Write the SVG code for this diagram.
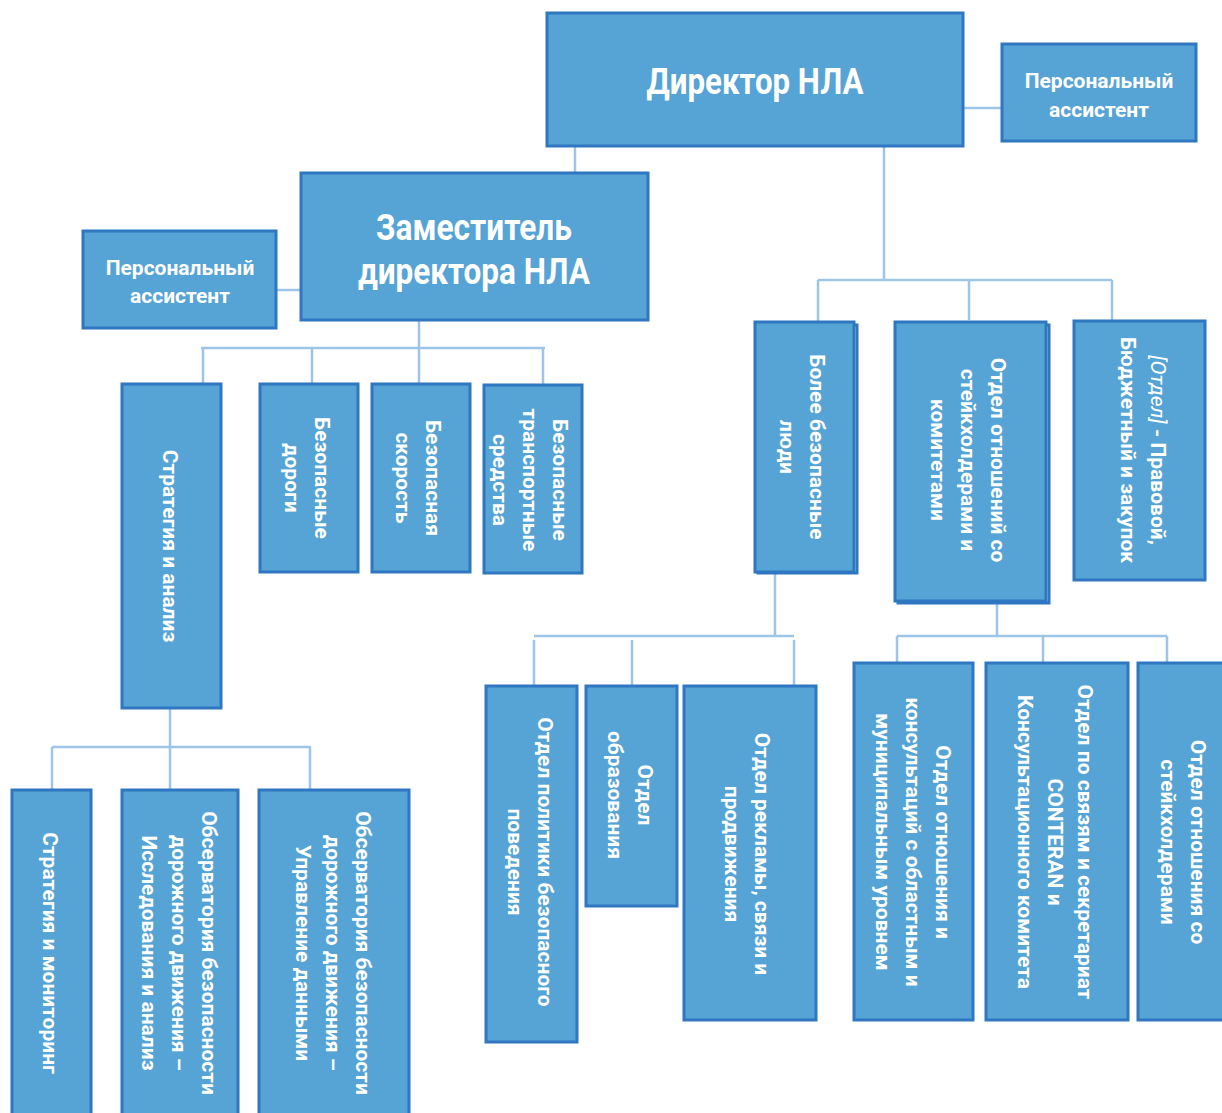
<svg xmlns="http://www.w3.org/2000/svg" width="1222" height="1113" viewBox="0 0 1222 1113">
<style>
.box{fill:#56A3D5;stroke:#2F77C0;stroke-width:3}
.sh{fill:none;stroke:#2F77C0;stroke-width:3}
.ln{fill:none;stroke:#9CC5E8;stroke-width:2.5}
text{fill:#fff;font-family:"Roboto","Liberation Sans",sans-serif;font-weight:bold;text-anchor:middle}
.big{font-size:36px}
.pa{font-size:21px}
.v{font-size:21px}
.it{font-style:italic;font-weight:normal}
</style>
<rect width="1222" height="1113" fill="#fff"/>
<g id="connectors">
<path class="ln" d="M963 108H1002"/>
<path class="ln" d="M575 146V173"/>
<path class="ln" d="M276 290H301"/>
<path class="ln" d="M419 320V383M201 348H545M203 348V384M312 348V384M543 348V385"/>
<path class="ln" d="M170 708V790M52 747H311M52 747V790M310 747V790"/>
<path class="ln" d="M884 146V280M818 280H1112M818 280V322M969 280V320M1112 280V321"/>
<path class="ln" d="M775 572V636M534 636H794M534 640V686M632 640V686M794 640V686"/>
<path class="ln" d="M997 602V636M897 636H1167M897 636V663M1043 636V663M1167 636V663"/>
</g>
<g id="director"><rect class="box" x="547" y="13" width="416" height="133"/><text class="big" x="755" y="94" textLength="217" lengthAdjust="spacingAndGlyphs">Директор НЛА</text></g>
<g id="pa-director"><rect class="box" x="1002" y="44" width="194" height="97"/><text class="pa" x="1099" y="88">Персональный</text><text class="pa" x="1099" y="117">ассистент</text></g>
<g id="deputy"><rect class="box" x="301" y="173" width="347" height="147"/><text class="big" x="474" y="240" textLength="196" lengthAdjust="spacingAndGlyphs">Заместитель</text><text class="big" x="474" y="284" textLength="232" lengthAdjust="spacingAndGlyphs">директора НЛА</text></g>
<g id="pa-deputy"><rect class="box" x="83" y="231" width="193" height="97"/><text class="pa" x="180" y="275">Персональный</text><text class="pa" x="180" y="303">ассистент</text></g>

<g id="strategy-analysis"><rect class="box" x="122" y="384" width="99" height="324"/><text class="v" transform="translate(170 546) rotate(90)" y="7">Стратегия и анализ</text></g>
<g id="safe-roads"><rect class="box" x="260" y="384" width="98" height="188"/><text class="v" transform="translate(307 478) rotate(90)"><tspan x="0" y="-8">Безопасные</tspan><tspan x="0" y="22">дороги</tspan></text></g>
<g id="safe-speed"><rect class="box" x="372" y="384" width="98" height="188"/><text class="v" transform="translate(418 478) rotate(90)"><tspan x="0" y="-8">Безопасная</tspan><tspan x="0" y="22">скорость</tspan></text></g>
<g id="safe-vehicles"><rect class="box" x="484" y="385" width="98" height="188"/><text class="v" transform="translate(530 480) rotate(90)"><tspan x="0" y="-23">Безопасные</tspan><tspan x="0" y="7">транспортные</tspan><tspan x="0" y="37">средства</tspan></text></g>

<g id="strategy-monitoring"><rect class="box" x="12" y="790" width="79" height="330"/><text class="v" transform="translate(50 953) rotate(90)" y="7">Стратегия и мониторинг</text></g>
<g id="observatory-research"><rect class="box" x="122" y="790" width="116" height="330"/><text class="v" transform="translate(179 953) rotate(90)"><tspan x="0" y="-23">Обсерватория безопасности</tspan><tspan x="0" y="7">дорожного движения –</tspan><tspan x="0" y="37">Исследования и анализ</tspan></text></g>
<g id="observatory-data"><rect class="box" x="259" y="790" width="150" height="330"/><text class="v" transform="translate(333 953) rotate(90)"><tspan x="0" y="-23">Обсерватория безопасности</tspan><tspan x="0" y="7">дорожного движения –</tspan><tspan x="0" y="37">Управление данными</tspan></text></g>

<g id="safer-people"><rect class="sh" x="758" y="325" width="99" height="248"/><rect class="box" x="755" y="322" width="99" height="250"/><text class="v" transform="translate(802 447) rotate(90)"><tspan x="0" y="-8">Более безопасные</tspan><tspan x="0" y="22">люди</tspan></text></g>
<g id="stakeholder-committees"><rect class="sh" x="898" y="325" width="151" height="278"/><rect class="box" x="895" y="322" width="151" height="279"/><text class="v" transform="translate(968 460) rotate(90)"><tspan x="0" y="-23">Отдел отношений со</tspan><tspan x="0" y="7">стейкхолдерами и</tspan><tspan x="0" y="37">комитетами</tspan></text></g>
<g id="legal"><rect class="box" x="1074" y="321" width="131" height="259"/><text class="v" transform="translate(1143 450) rotate(90)"><tspan x="0" y="-8"><tspan class="it">[Отдел]</tspan> - Правовой,</tspan><tspan x="0" y="22">Бюджетный и закупок</tspan></text></g>

<g id="behaviour-policy"><rect class="box" x="486" y="686" width="91" height="356"/><text class="v" transform="translate(530 862) rotate(90)"><tspan x="0" y="-8">Отдел политики безопасного</tspan><tspan x="0" y="22">поведения</tspan></text></g>
<g id="education"><rect class="box" x="586" y="686" width="91" height="220"/><text class="v" transform="translate(630 795) rotate(90)"><tspan x="0" y="-8">Отдел</tspan><tspan x="0" y="22">образования</tspan></text></g>
<g id="advertising"><rect class="box" x="684" y="686" width="132" height="334"/><text class="v" transform="translate(747 854) rotate(90)"><tspan x="0" y="-8">Отдел рекламы, связи и</tspan><tspan x="0" y="22">продвижения</tspan></text></g>

<g id="regional"><rect class="box" x="854" y="663" width="119" height="357"/><text class="v" transform="translate(913 842) rotate(90)"><tspan x="0" y="-23">Отдел отношения и</tspan><tspan x="0" y="7">консультаций с областным и</tspan><tspan x="0" y="37">муниципальным уровнем</tspan></text></g>
<g id="conteran"><rect class="box" x="986" y="663" width="142" height="357"/><text class="v" transform="translate(1055 842) rotate(90)"><tspan x="0" y="-23">Отдел по связям и секретариат</tspan><tspan x="0" y="7">CONTERAN и</tspan><tspan x="0" y="37">Консультационного комитета</tspan></text></g>
<g id="stakeholders"><rect class="box" x="1138" y="663" width="90" height="357"/><text class="v" transform="translate(1183 842) rotate(90)"><tspan x="0" y="-8">Отдел отношения со</tspan><tspan x="0" y="22">стейкхолдерами</tspan></text></g>
</svg>
